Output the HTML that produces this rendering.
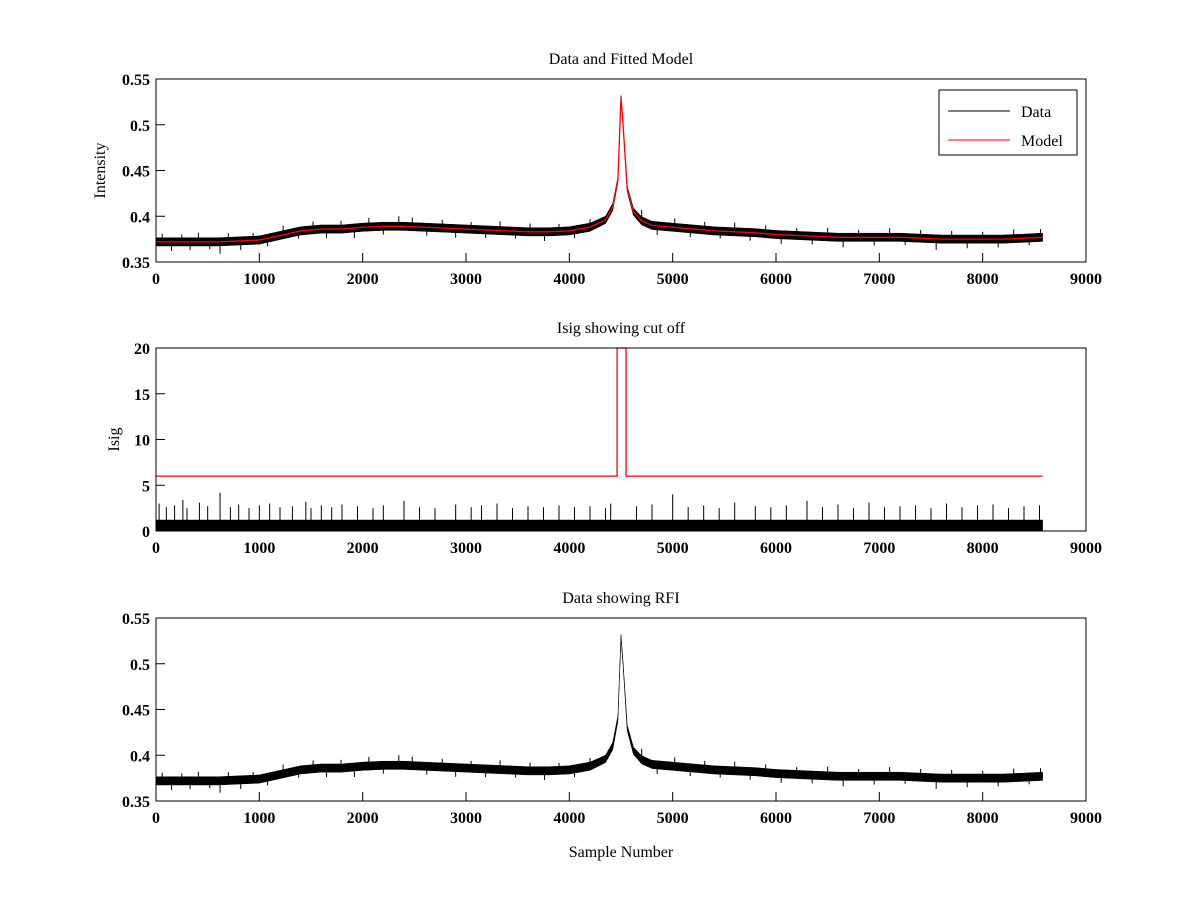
<!DOCTYPE html>
<html><head><meta charset="utf-8"><style>
body{margin:0;background:#fff}
svg text{font-family:"Liberation Serif",serif;fill:#000}
</style></head><body>
<svg id="fig" width="1200" height="900" viewBox="0 0 1200 900" xmlns="http://www.w3.org/2000/svg">
<rect width="1200" height="900" fill="#fff"/>
</svg>
<script>
// ---- data ----
const xSamples = [0,200,400,600,800,1000,1200,1400,1600,1800,2000,2200,2400,2600,2800,3000,3200,3400,3600,3800,4000,4200,4350,4420,4470,4500,4520,4560,4620,4700,4800,5000,5200,5400,5600,5800,6000,6200,6400,6600,6800,7000,7200,7400,7600,7800,8000,8200,8400,8580];
const modelValues = [0.372,0.372,0.372,0.372,0.373,0.374,0.379,0.384,0.386,0.386,0.388,0.389,0.389,0.388,0.387,0.386,0.385,0.384,0.383,0.383,0.384,0.388,0.396,0.41,0.44,0.53,0.50,0.43,0.405,0.395,0.39,0.388,0.386,0.384,0.383,0.382,0.380,0.379,0.378,0.377,0.377,0.377,0.377,0.376,0.375,0.375,0.375,0.375,0.376,0.377];
const bandHalf = [0.0045,0.0045,0.0045,0.0045,0.0045,0.0045,0.0045,0.0045,0.0045,0.0045,0.0045,0.0045,0.0045,0.0045,0.0045,0.0045,0.0045,0.0045,0.0045,0.0045,0.0045,0.0045,0.004,0.004,0.003,0.002,0.002,0.003,0.004,0.0045,0.0045,0.0045,0.0045,0.0045,0.0045,0.0045,0.0045,0.0045,0.0045,0.0045,0.0045,0.0045,0.0045,0.0045,0.0045,0.0045,0.0045,0.0045,0.0045,0.0045];
const spikeX = [60,150,250,330,410,520,620,700,820,940,1080,1230,1380,1520,1650,1790,1920,2060,2200,2350,2480,2620,2770,2900,3050,3190,3330,3480,3620,3760,3900,4050,4200,4700,4850,5020,5170,5310,5460,5600,5750,5900,6050,6200,6350,6500,6650,6800,6950,7100,7250,7400,7550,7700,7850,8000,8150,8300,8450,8560];
const spikeD = [0.009,-0.010,0.008,-0.009,0.010,-0.008,-0.013,0.009,-0.010,0.008,-0.009,0.010,-0.008,0.009,-0.010,0.009,-0.011,0.010,-0.009,0.011,0.010,-0.009,0.009,-0.010,0.008,-0.009,0.010,-0.008,0.009,-0.010,0.008,-0.009,0.009,0.012,-0.010,0.010,-0.009,0.009,-0.008,0.010,-0.009,0.009,-0.010,0.008,-0.009,0.010,-0.011,0.008,-0.009,0.010,-0.008,0.009,-0.012,0.009,-0.010,0.008,-0.009,0.010,-0.008,0.009];
const isigBandTop = xSamples.map(()=>1.2);
const isigSpikeX = [30,100,180,260,300,420,500,620,720,800,900,1000,1100,1200,1320,1450,1500,1600,1700,1800,1950,2100,2200,2400,2550,2700,2900,3050,3150,3300,3450,3600,3750,3900,4050,4200,4350,4400,4650,4800,5000,5150,5300,5450,5600,5800,5950,6100,6300,6450,6600,6750,6900,7050,7200,7350,7500,7650,7800,7950,8100,8250,8400,8550];
const isigSpikeY = [3.0,2.6,2.8,3.4,2.5,3.1,2.7,4.2,2.6,2.9,2.5,2.8,3.0,2.6,2.7,3.2,2.5,2.8,2.6,2.9,2.7,2.5,2.8,3.3,2.6,2.5,2.9,2.6,2.8,3.0,2.5,2.7,2.6,2.8,2.6,2.7,2.5,3.0,2.7,2.9,4.0,2.6,2.8,2.5,3.1,2.7,2.6,2.8,3.3,2.6,2.9,2.5,3.1,2.6,2.7,2.8,2.5,3.0,2.6,2.8,2.9,2.5,2.7,2.8];
const isigCutX = [0,4462,4462,4549,4549,8580];
const isigCutY = [6,6,20,20,6,6];
const xTicks = [0,1000,2000,3000,4000,5000,6000,7000,8000,9000];
const yTicksI = [0.35,0.4,0.45,0.5,0.55];
const yTicksIsig = [0,5,10,15,20];

const NS="http://www.w3.org/2000/svg";
const svg=document.getElementById('fig');
function mk(tag,attrs,parent){const e=document.createElementNS(NS,tag);for(const k in attrs)e.setAttribute(k,attrs[k]);(parent||svg).appendChild(e);return e;}
const X0=156,X1=1086;
function sx(v){return X0+(v/9000)*(X1-X0);}

function axes(name,top,bot,ymin,ymax,yt,title,ylabel){
  const g=mk('g',{});
  
  
  const sy=v=>bot-(v-ymin)/(ymax-ymin)*(bot-top);
  return {g,sy,top,bot,draw(){
    const box=mk('rect',{x:X0,y:top,width:X1-X0,height:bot-top,fill:'none',stroke:'#000','stroke-width':1},g);
    
    
    xTicks.forEach(t=>{const x=sx(t);
      mk('line',{x1:x,x2:x,y1:bot,y2:bot-9,stroke:'#000'},g);
      const tx=mk('text',{x:x,y:bot+22,'font-size':16,'font-weight':'bold','text-anchor':'middle'},g);tx.textContent=t;
      
      
    });
    yt.forEach(t=>{const y=sy(t);
      mk('line',{x1:X0,x2:X0+9,y1:y,y2:y,stroke:'#000'},g);
      const tx=mk('text',{x:X0-6,y:y+6,'font-size':16,'font-weight':'bold','text-anchor':'end'},g);tx.textContent=String(t);
      
      
    });
    const tt=mk('text',{x:(X0+X1)/2,y:top-15,'font-size':16,'text-anchor':'middle'},g);tt.textContent=title;
    
    
    const yl=mk('text',{x:0,y:0,'font-size':16,'text-anchor':'middle',transform:`translate(${ylabel.x},${(top+bot)/2}) rotate(-90)`},g);yl.textContent=ylabel.t;
    
    
  }};
}
function band(ax,lo,hi,name){
  let d='M'+xSamples.map((x,i)=>sx(x)+','+ax.sy(hi[i])).join('L');
  for(let i=xSamples.length-1;i>=0;i--)d+='L'+sx(xSamples[i])+','+ax.sy(lo[i]);
  const p=mk('path',{d:d+'Z',fill:'#000',stroke:'#000','stroke-width':0.5},ax.g);
  
  
}
function interp(x){for(let i=1;i<xSamples.length;i++){if(x<=xSamples[i]){const t=(x-xSamples[i-1])/(xSamples[i]-xSamples[i-1]);return modelValues[i-1]+t*(modelValues[i]-modelValues[i-1]);}}return modelValues[modelValues.length-1];}
function spikes(ax,name){
  spikeX.forEach((x,i)=>{const b=interp(x);const l=mk('line',{x1:sx(x),x2:sx(x),y1:ax.sy(b),y2:ax.sy(b+spikeD[i]),stroke:'#000','stroke-width':1},ax.g);
    
    });
}
function line(ax,xs,ys,color,name){
  const p=mk('polyline',{points:xs.map((x,i)=>sx(x)+','+ax.sy(ys[i])).join(' '),fill:'none',stroke:color,'stroke-width':1.3},ax.g);
  
  
}
const lo=modelValues.map((v,i)=>v-bandHalf[i]), hi=modelValues.map((v,i)=>v+bandHalf[i]);

// Panel 1
const a1=axes('data-model-panel',79,262,0.35,0.55,yTicksI,'Data and Fitted Model',{x:105,t:'Intensity'});
band(a1,lo,hi,'data-series');
spikes(a1,'data-noise-spike');
line(a1,xSamples,modelValues,'#f00','model-series');
a1.draw();
const lg=mk('g',{},a1.g);


mk('rect',{x:939,y:90,width:138,height:65,fill:'#fff',stroke:'#000'},lg);
mk('line',{x1:948,x2:1010,y1:111,y2:111,stroke:'#000'},lg);
mk('line',{x1:948,x2:1010,y1:140,y2:140,stroke:'#f00'},lg);
const l1=mk('text',{x:1021,y:117,'font-size':16},lg);l1.textContent='Data';


const l2=mk('text',{x:1021,y:146,'font-size':16},lg);l2.textContent='Model';



// Panel 2
const a2=axes('isig-panel',348,531,0,20,yTicksIsig,'Isig showing cut off',{x:119,t:'Isig'});
band(a2,xSamples.map(()=>0),isigBandTop,'isig-series');
isigSpikeX.forEach((x,i)=>{const l=mk('line',{x1:sx(x),x2:sx(x),y1:a2.sy(0),y2:a2.sy(isigSpikeY[i]),stroke:'#000'},a2.g);
  
  });
line(a2,isigCutX,isigCutY,'#f00','cutoff-line');
a2.draw();

// Panel 3
const a3=axes('rfi-panel',618,801,0.35,0.55,yTicksI,'Data showing RFI',{x:105,t:''});
band(a3,lo,hi,'rfi-data-series');
spikes(a3,'rfi-noise-spike');
a3.draw();
const xl=mk('text',{x:(X0+X1)/2,y:857,'font-size':16,'text-anchor':'middle'});xl.textContent='Sample Number';


</script>
</body></html>
